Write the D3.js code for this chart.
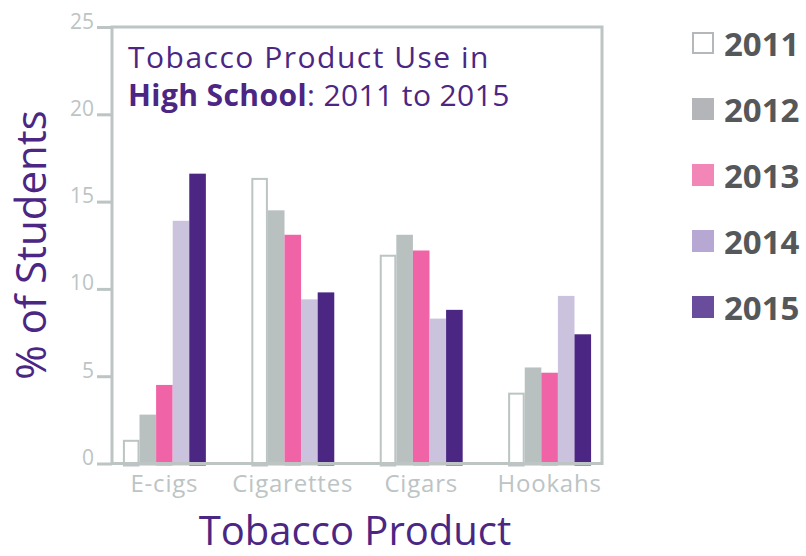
<!DOCTYPE html>
<html>
<head>
<meta charset="utf-8">
<script src="https://cdn.jsdelivr.net/npm/d3@7"></script>
<style>
body { margin: 0; background: #fff; }
svg text { font-family: "Open Sans", "Noto Sans", sans-serif; }
</style>
</head>
<body>
<svg id="chart" width="806" height="556"></svg>
<script>
// chart data
var products = ["E-cigs", "Cigarettes", "Cigars", "Hookahs"];
var years = ["2011", "2012", "2013", "2014", "2015"];
var ecigs = [1.3, 2.8, 4.5, 13.9, 16.6];
var cigarettes = [16.3, 14.5, 13.1, 9.4, 9.8];
var cigars = [11.9, 13.1, 12.2, 8.3, 8.8];
var hookahs = [4.0, 5.5, 5.2, 9.6, 7.4];
var yTicks = [0, 5, 10, 15, 20, 25];

var barColors = ["#ffffff", "#b9c0c0", "#f064a7", "#cbc2dd", "#4b2683"];
var legendColors = ["#ffffff", "#b3b5b8", "#f287b7", "#b6a8d3", "#6a4c9c"];

var values = [ecigs, cigarettes, cigars, hookahs];
var rows = [];
products.forEach(function(p, i){
    years.forEach(function(y, j){
	rows.push({product: p, year: y, value: values[i][j], k: j});
    });
});

var svg = d3.select("#chart");
var purple = "#4b2683";
var gray = "#bcc4c4";

var box = {left: 112, right: 602, top: 27, bottom: 463.5};

var y = d3.scaleLinear()
    .domain([0, 25])
    .range([box.bottom, box.top]);

var x = d3.scaleBand()
    .domain(products)
    .range([box.left, box.right])
    .paddingInner(0.354)
    .paddingOuter(0.085);

var xi = d3.scaleBand()
    .domain(years)
    .range([0, x.bandwidth()]);

// bars (they run a touch under the baseline, as in the original)
svg.append("g")
    .selectAll("rect")
    .data(rows)
    .enter()
    .append("rect")
    .attr("x", function(d){ return x(d.product) + xi(d.year) + (d.k == 0 ? 1 : 0); })
    .attr("y", function(d){ return y(d.value); })
    .attr("width", function(d){ return xi.bandwidth() - (d.k == 0 ? 2 : 0); })
    .attr("height", function(d){ return y(0) - y(d.value) + 2; })
    .attr("fill", function(d){ return barColors[d.k]; })
    .attr("stroke", function(d){ return d.k == 0 ? gray : "none"; })
    .attr("stroke-width", 2);

// frame
svg.append("rect")
    .attr("x", box.left)
    .attr("y", box.top)
    .attr("width", box.right - box.left)
    .attr("height", box.bottom - box.top)
    .attr("fill", "none")
    .attr("stroke", gray)
    .attr("stroke-width", 3);

var yAxis = svg.append("g")
    .attr("transform", "translate(" + box.left + ",0)")
    .call(d3.axisLeft(y).tickValues(yTicks).tickSize(15).tickPadding(3));
yAxis.select(".domain").remove();
yAxis.selectAll("line").attr("stroke", gray).attr("stroke-width", 3);
yAxis.selectAll("text")
    .attr("fill", "#bcc4c4")
    .style("font-size", "21px")
    .attr("dy", "0.05em");

var xAxis = svg.append("g")
    .attr("transform", "translate(0," + box.bottom + ")")
    .call(d3.axisBottom(x).tickSize(0).tickPadding(11));
xAxis.select(".domain").remove();
xAxis.selectAll("text")
    .attr("fill", "#bcc4c4")
    .style("font-size", "24px")
    .style("letter-spacing", "0.8px");

// axis titles
svg.append("text")
    .attr("x", 355)
    .attr("y", 545)
    .attr("text-anchor", "middle")
    .attr("fill", purple)
    .style("font-size", "40px")
    .text("Tobacco Product");

svg.append("text")
    .attr("transform", "translate(46,245) rotate(-90)")
    .attr("text-anchor", "middle")
    .attr("fill", purple)
    .style("font-size", "42px")
    .text("% of Students");

// title inside the frame
var title = svg.append("text")
    .attr("fill", purple)
    .style("font-size", "30px");
title.append("tspan")
    .attr("x", 128).attr("y", 68)
    .style("letter-spacing", "1.5px")
    .text("Tobacco Product Use in");
var l2 = title.append("tspan")
    .attr("x", 128).attr("y", 106)
    .style("letter-spacing", "0.4px");
l2.append("tspan").style("font-weight", "bold").text("High School");
l2.append("tspan").text(": 2011 to 2015");

// legend
var legend = svg.append("g")
    .selectAll("g")
    .data(years)
    .enter()
    .append("g")
    .attr("transform", function(d, i){ return "translate(692," + (32 + i * 66) + ")"; });

legend.append("rect")
    .attr("x", function(d, i){ return i == 0 ? 1 : 0; })
    .attr("y", function(d, i){ return i == 0 ? 1 : 0; })
    .attr("width", function(d, i){ return i == 0 ? 20 : 22; })
    .attr("height", function(d, i){ return i == 0 ? 20 : 22; })
    .attr("fill", function(d, i){ return legendColors[i]; })
    .attr("stroke", function(d, i){ return i == 0 ? "#b5b8ba" : "none"; })
    .attr("stroke-width", 2);

legend.append("text")
    .attr("x", 32)
    .attr("y", 23.5)
    .attr("fill", "#555759")
    .style("font-size", "33px")
    .style("font-weight", "bold")
    .text(function(d){ return d; });
</script>
</body>
</html>
